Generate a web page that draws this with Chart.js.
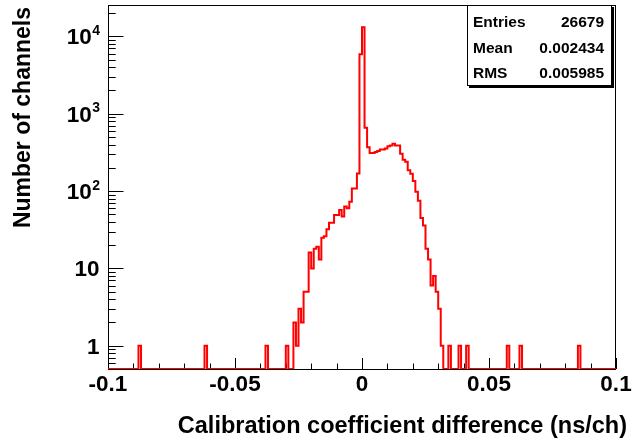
<!DOCTYPE html>
<html>
<head>
<meta charset="utf-8">
<script src="https://cdn.jsdelivr.net/npm/chart.js@4.4.0/dist/chart.umd.min.js"></script>
<style>
  html, body { margin: 0; padding: 0; background: #fff; }
  #wrap { width: 632px; height: 443px; }
</style>
</head>
<body>
<div id="wrap"><canvas id="histo" width="632" height="443"></canvas></div>
<script>
// ---- histogram data (200 bins from -0.1 to 0.1) ----
const xMin = -0.1, xMax = 0.1, binWidth = 0.001;
const counts = [
  0,0,0,0,0,0,0,0,0,0, 0,0,1,0,0,0,0,0,0,0,
  0,0,0,0,0,0,0,0,0,0, 0,0,0,0,0,0,0,0,1,0,
  0,0,0,0,0,0,0,0,0,0, 0,0,0,0,0,0,0,0,0,0,
  0,0,1,0,0,0,0,0,0,0, 1,0,0,2,1,3,2,5,5,16,
  10,18,19,13,25,26,32,39,39,49, 49,57,47,63,60,73,108,108,169,5890,
  13150,660,370,310,310,320,330,345,345,355, 380,390,410,390,390,305,255,240,186,168,
  135,98,75,45,36,18,13,6,8,5, 3,1,0,0,1,0,0,0,1,0,
  0,1,0,0,0,0,0,0,0,0, 0,0,0,0,0,0,0,1,0,0,
  0,0,1,0,0,0,0,0,0,0, 0,0,0,0,0,0,0,0,0,0,
  0,0,0,0,0,1,0,0,0,0, 0,0,0,0,0,0,0,0,0,0
];
const yMin = 0.5, yMax = 25500;

const xTickValues = [-0.1, -0.05, 0, 0.05, 0.1];
const xTickLabels = ['-0.1', '-0.05', '0', '0.05', '0.1'];
const yTickValues = [1, 10, 100, 1000, 10000];
const yTickBase = ['1', '10', '10', '10', '10'];
const yTickExp = ['', '', '2', '3', '4'];

const xTitle = 'Calibration coefficient difference (ns/ch)';
const yTitle = 'Number of channels';
const statNames = ['Entries', 'Mean', 'RMS'];
const statValues = ['26679', '0.002434', '0.005985'];

const FONT = '"Liberation Sans", Arial, Helvetica, sans-serif';

// step points at the low edge of each bin, plus the upper edge of the last one
const points = counts.map((c, i) => ({ x: xMin + i * binWidth, y: c > 0 ? c : yMin }));
points.push({ x: xMax, y: points[points.length - 1].y });

// ---- ROOT style frame, ticks, labels, stats box ----
const rootLook = {
  id: 'rootLook',
  beforeDatasetsDraw(chart) {
    const { ctx, chartArea: a, scales: { x, y } } = chart;
    ctx.save();
    ctx.strokeStyle = '#000';
    ctx.lineWidth = 1;

    // ticks inside the frame
    ctx.beginPath();
    for (let i = -10; i <= 10; i++) {
      const px = Math.round(x.getPixelForValue(i / 100)) + 0.5;
      const len = i % 5 === 0 ? 11 : 5.5;
      ctx.moveTo(px, a.bottom);
      ctx.lineTo(px, a.bottom - len);
    }
    for (let d = -1; d <= 4; d++) {
      for (let m = 1; m <= 9; m++) {
        const v = m * Math.pow(10, d);
        if (v <= yMin || v >= yMax) continue;
        const py = Math.round(y.getPixelForValue(v)) + 0.5;
        ctx.moveTo(a.left, py);
        ctx.lineTo(a.left + (m === 1 ? 15.5 : 7.7), py);
      }
    }
    ctx.stroke();

    // frame
    ctx.strokeRect(Math.round(a.left) + 0.5, Math.round(a.top) + 0.5,
                   Math.round(a.width) - 1, Math.round(a.height));

    // tick labels
    ctx.fillStyle = '#000';
    ctx.textBaseline = 'alphabetic';
    ctx.font = 'bold 22.5px ' + FONT;
    ctx.textAlign = 'center';
    xTickValues.forEach((v, i) => {
      ctx.fillText(xTickLabels[i], x.getPixelForValue(v), 391);
    });

    const labelRight = 99.5;
    yTickValues.forEach((v, i) => {
      const py = y.getPixelForValue(v);
      ctx.textAlign = 'left';
      ctx.font = 'bold 14px ' + FONT;
      const we = yTickExp[i] ? ctx.measureText(yTickExp[i]).width : 0;
      ctx.font = 'bold 22.5px ' + FONT;
      const wb = ctx.measureText(yTickBase[i]).width;
      const x0 = labelRight - we - wb;
      ctx.fillText(yTickBase[i], x0, py + 8);
      if (yTickExp[i]) {
        ctx.font = 'bold 14px ' + FONT;
        ctx.fillText(yTickExp[i], x0 + wb + 0.5, py - 1.5);
      }
    });

    // axis titles
    ctx.font = 'bold 23.5px ' + FONT;
    ctx.textAlign = 'right';
    ctx.fillText(xTitle, 627, 433);
    ctx.save();
    ctx.translate(30, 7);
    ctx.rotate(-Math.PI / 2);
    ctx.font = 'bold 23px ' + FONT;
    ctx.textAlign = 'right';
    ctx.fillText(yTitle, 0, 0);
    ctx.restore();

    ctx.restore();
  },
  afterDatasetsDraw(chart) {
    const { ctx } = chart;
    ctx.save();
    const bx = 467.5, by = 5.5, bw = 144, bh = 80;
    ctx.fillStyle = '#000';
    ctx.fillRect(bx + 1.5, by + 1.5, bw + 1, bh + 1);
    ctx.fillStyle = '#fff';
    ctx.fillRect(bx, by, bw, bh);
    ctx.strokeStyle = '#000';
    ctx.lineWidth = 1;
    ctx.strokeRect(bx, by, bw, bh);

    ctx.fillStyle = '#000';
    ctx.font = 'bold 15.5px ' + FONT;
    ctx.textBaseline = 'alphabetic';
    const rows = [26.5, 52.5, 78];
    statNames.forEach((n, i) => {
      ctx.textAlign = 'left';
      ctx.fillText(n, 473, rows[i]);
      ctx.textAlign = 'right';
      ctx.fillText(statValues[i], 604, rows[i]);
    });
    ctx.restore();
  }
};

new Chart(document.getElementById('histo'), {
  type: 'line',
  data: {
    datasets: [{
      data: points,
      stepped: 'before',
      borderColor: '#ff0000',
      borderWidth: 2,
      pointRadius: 0,
      fill: false,
      tension: 0
    }]
  },
  options: {
    responsive: false,
    animation: false,
    events: [],
    layout: { padding: { top: 5, right: 16, left: 0, bottom: 0 } },
    plugins: { legend: { display: false }, tooltip: { enabled: false } },
    scales: {
      x: {
        type: 'linear', min: xMin, max: xMax,
        ticks: { display: false }, grid: { display: false }, border: { display: false },
        afterFit(scale) { scale.height = 74; }
      },
      y: {
        type: 'logarithmic', min: yMin, max: yMax,
        ticks: { display: false }, grid: { display: false }, border: { display: false },
        afterFit(scale) { scale.width = 108; }
      }
    }
  },
  plugins: [rootLook]
});
</script>
</body>
</html>
